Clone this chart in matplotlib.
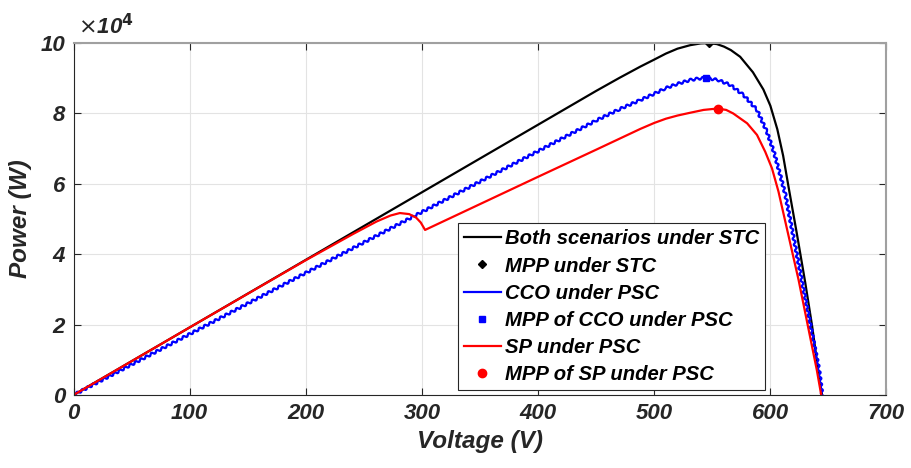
import numpy as np
import matplotlib
matplotlib.use("Agg")
import matplotlib.pyplot as plt
from matplotlib.lines import Line2D

plt.rcParams['font.family'] = ['Liberation Sans', 'DejaVu Sans']

# --- data (power in units of 1e4 W) ---
v_stc = [0, 100, 200, 300, 400, 450, 470, 488, 500, 510, 520, 531, 540, 547, 554, 560, 566, 574,
         585, 594, 600, 606, 611, 616, 623, 630, 636, 641, 644.5]
p_stc = [0, 1.92, 3.84, 5.76, 7.68, 8.64, 9.01, 9.33, 9.53, 9.70, 9.84, 9.94, 9.99, 10.0, 9.97, 9.90, 9.80, 9.61,
         9.17, 8.68, 8.22, 7.55, 6.80, 5.85, 4.55, 3.20, 1.95, 0.75, 0.0]

v_cco = [0, 100, 200, 300, 400, 450, 470, 488, 500, 510, 520, 531, 538, 544.5, 555, 565.5, 577,
         588.5, 597, 603, 608.5, 613, 627, 642, 644.7]
p_cco = [0, 1.73, 3.47, 5.20, 6.93, 7.80, 8.12, 8.38, 8.56, 8.72, 8.84, 8.95, 8.99, 9.01, 8.95, 8.81, 8.52,
         8.10, 7.48, 6.91, 6.25, 5.68, 3.27, 0.71, 0.0]

v_sp = [0, 100, 200, 241, 261, 273, 281, 289, 295, 299, 302.7, 400, 450, 488, 500, 510, 520, 531,
        542.5, 554.5, 562, 568, 580, 588.5, 595.6, 601.4, 607, 624.3, 640, 643.8]
p_sp = [0, 1.92, 3.83, 4.58, 4.93, 5.10, 5.17, 5.14, 5.04, 4.90, 4.69, 6.20, 6.97, 7.56, 7.73, 7.85, 7.94, 8.02,
        8.10, 8.14, 8.10, 8.00, 7.72, 7.39, 6.91, 6.44, 5.78, 3.27, 0.71, 0.0]

mpp_stc = (547, 10.0)
mpp_cco = (544.5, 9.01)
mpp_sp = (554.5, 8.14)

x_ticks = [0, 100, 200, 300, 400, 500, 600, 700]
y_ticks = [0, 2, 4, 6, 8, 10]

labels = ['Both scenarios under STC', 'MPP under STC', 'CCO under PSC',
          'MPP of CCO under PSC', 'SP under PSC', 'MPP of SP under PSC']

fig = plt.figure(figsize=(9.11, 4.68), dpi=100)
ax = fig.add_axes([0.0807, 0.156, 0.8924, 0.752])

h1, = ax.plot(v_stc, p_stc, color='black', lw=1.6)
h2, = ax.plot(*mpp_stc, 'D', color='black', ms=4.5, ls='none')
blue, = ax.plot(v_cco, p_cco, color='#0000ff', lw=1.6)
blue.set_sketch_params(scale=1.3, length=6, randomness=1)  # the ripple on the CCO curve
h3 = Line2D([], [], color='#0000ff', lw=1.6)
h4, = ax.plot(*mpp_cco, 's', color='#0000ff', ms=4.5, ls='none')
h5, = ax.plot(v_sp, p_sp, color='#ff0000', lw=1.6)
h6, = ax.plot(*mpp_sp, 'o', color='#ff0000', ms=6, ls='none')

ax.set_xlim(0, 700)
ax.set_ylim(0, 10)
ax.set_xticks(x_ticks)
ax.set_yticks(y_ticks)
ax.grid(True, color='#e3e3e3', lw=0.8)
ax.set_axisbelow(True)
ax.tick_params(direction='in', top=True, right=True, length=5, width=0.8,
               colors='#262626', labelsize=16, pad=6)
for lab in ax.get_xticklabels() + ax.get_yticklabels():
    lab.set_fontweight('bold')
    lab.set_fontstyle('italic')
for s in ['left', 'bottom']:
    ax.spines[s].set_color('#262626')
for s in ['top', 'right']:
    ax.spines[s].set_color('#a0a0a0')
    ax.spines[s].set_linewidth(1.5)

ax.set_xlabel('Voltage (V)', fontsize=17.5, fontweight='bold', fontstyle='italic', color='#262626', labelpad=4)
ax.set_ylabel('Power (W)', fontsize=17.5, fontweight='bold', fontstyle='italic', color='#262626', labelpad=6)
ax.text(0.005, 1.012, r'$\times$10$^{\mathbf{4}}$', transform=ax.transAxes, fontsize=16,
        fontweight='bold', fontstyle='italic', color='#262626', ha='left', va='bottom')

leg = ax.legend([h1, h2, h3, h4, h5, h6], labels, loc='lower right', bbox_to_anchor=(0.8505, 0.014),
                frameon=True, fancybox=False, framealpha=1, edgecolor='#262626',
                handlelength=1.8, handletextpad=0.2, borderpad=0.3, labelspacing=0.4,
                borderaxespad=0, prop={'weight': 'bold', 'style': 'italic', 'size': 14.6})
leg.get_frame().set_linewidth(0.8)

fig.savefig('out.png', dpi=100)
